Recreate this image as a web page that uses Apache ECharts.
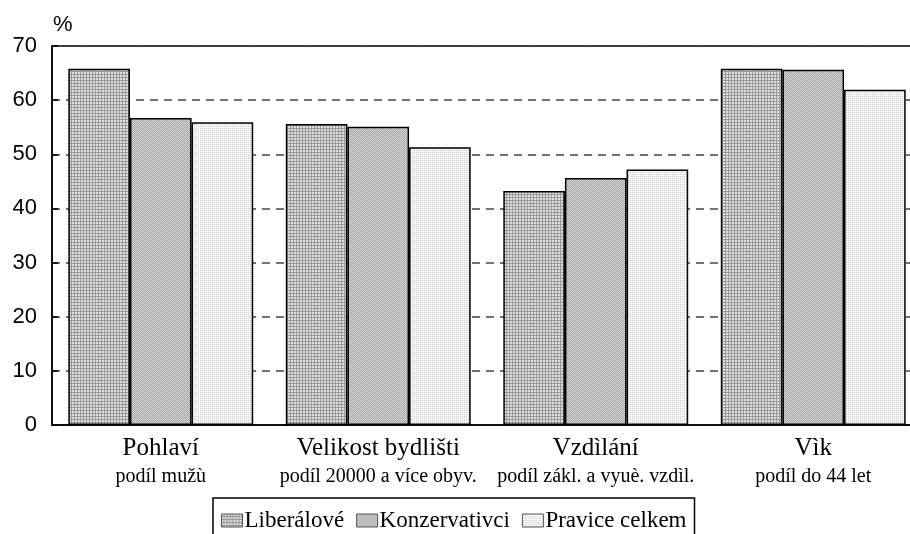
<!DOCTYPE html>
<html>
<head>
<meta charset="utf-8">
<script src="https://cdn.jsdelivr.net/npm/echarts@6/dist/echarts.min.js"></script>
<style>
  html, body { margin: 0; padding: 0; background: #fff; }
  #main { width: 910px; height: 534px; }
</style>
</head>
<body>
<div id="main"></div>
<script>
// data
const categories = ['Pohlaví', 'Velikost bydlišti', 'Vzdìlání', 'Vìk'];
const subLabels = ['podíl mužù', 'podíl 20000 a více obyv.', 'podíl zákl. a vyuè. vzdìl.', 'podíl do 44 let'];
const seriesNames = ['Liberálové', 'Konzervativci', 'Pravice celkem'];
const liberalove = [65.8, 55.6, 43.2, 65.8];
const konzervativci = [56.7, 55.1, 45.6, 65.6];
const pravice = [55.9, 51.3, 47.2, 61.9];

// small pixel textures like the original fills
function pattern(size, fn) {
  const c = document.createElement('canvas');
  c.width = c.height = size;
  const ctx = c.getContext('2d');
  for (let x = 0; x < size; x++) {
    for (let y = 0; y < size; y++) {
      ctx.fillStyle = fn(x, y);
      ctx.fillRect(x, y, 1, 1);
    }
  }
  return { image: c, repeat: 'repeat' };
}
const fills = [
  pattern(3, (x, y) => (x === 2 || y === 2) ? '#9a9a9a' : '#dedede'),
  pattern(2, (x, y) => ((x + y) % 2) ? '#a6a6a6' : '#d6d6d6'),
  pattern(2, (x, y) => (x === 0 && y === 0) ? '#cfcfcf' : '#f7f7f7')
];

const serif = '"Liberation Serif", "Times New Roman", serif';
const sans = '"Liberation Sans", Arial, sans-serif';

const chart = echarts.init(document.getElementById('main'));
const values = [liberalove, konzervativci, pravice];

chart.setOption({
  animation: false,
  grid: {
    left: 52, top: 46, width: 870, height: 379,
    outerBoundsMode: 'none',
    containLabel: false,
    show: true, borderColor: '#000', borderWidth: 1.5, backgroundColor: 'transparent'
  },
  graphic: [{
    type: 'text', left: 53, top: 14,
    style: { text: '%', font: '22px ' + sans, fill: '#000' }
  }],
  legend: {
    data: seriesNames,
    left: 213, top: 498,
    padding: [11, 8, 14, 8],
    itemGap: 12,
    itemWidth: 21, itemHeight: 13,
    borderColor: '#000', borderWidth: 1.5,
    icon: 'rect',
    itemStyle: { borderWidth: 1, borderColor: '#555' },
    textStyle: { fontFamily: serif, fontSize: 23, color: '#000', padding: [0, 0, 0, -3] }
  },
  xAxis: {
    type: 'category',
    data: categories,
    axisLine: { lineStyle: { color: '#000', width: 1.5 } },
    axisTick: { show: false },
    axisLabel: {
      margin: 8,
      formatter: (v, i) => '{a|' + v + '}\n{b|' + subLabels[i] + '}',
      rich: {
        a: { fontFamily: serif, fontSize: 25, lineHeight: 30, color: '#000' },
        b: { fontFamily: serif, fontSize: 20, lineHeight: 28, color: '#000' }
      }
    }
  },
  yAxis: {
    type: 'value',
    min: 0, max: 70, interval: 10,
    axisLine: { show: true, lineStyle: { color: '#000', width: 1.5 } },
    axisTick: { show: true, inside: true, length: 6, lineStyle: { color: '#000', width: 1.5 } },
    axisLabel: { fontFamily: sans, fontSize: 22, color: '#000', margin: 15 },
    splitLine: { lineStyle: { color: '#444', width: 1.5, type: [8, 6] } }
  },
  series: seriesNames.map((name, k) => ({
    name: name,
    type: 'bar',
    data: values[k],
    barGap: '0%',
    barCategoryGap: '15%',
    itemStyle: { color: fills[k], borderColor: '#000', borderWidth: 1.5 }
  }))
});
</script>
</body>
</html>
